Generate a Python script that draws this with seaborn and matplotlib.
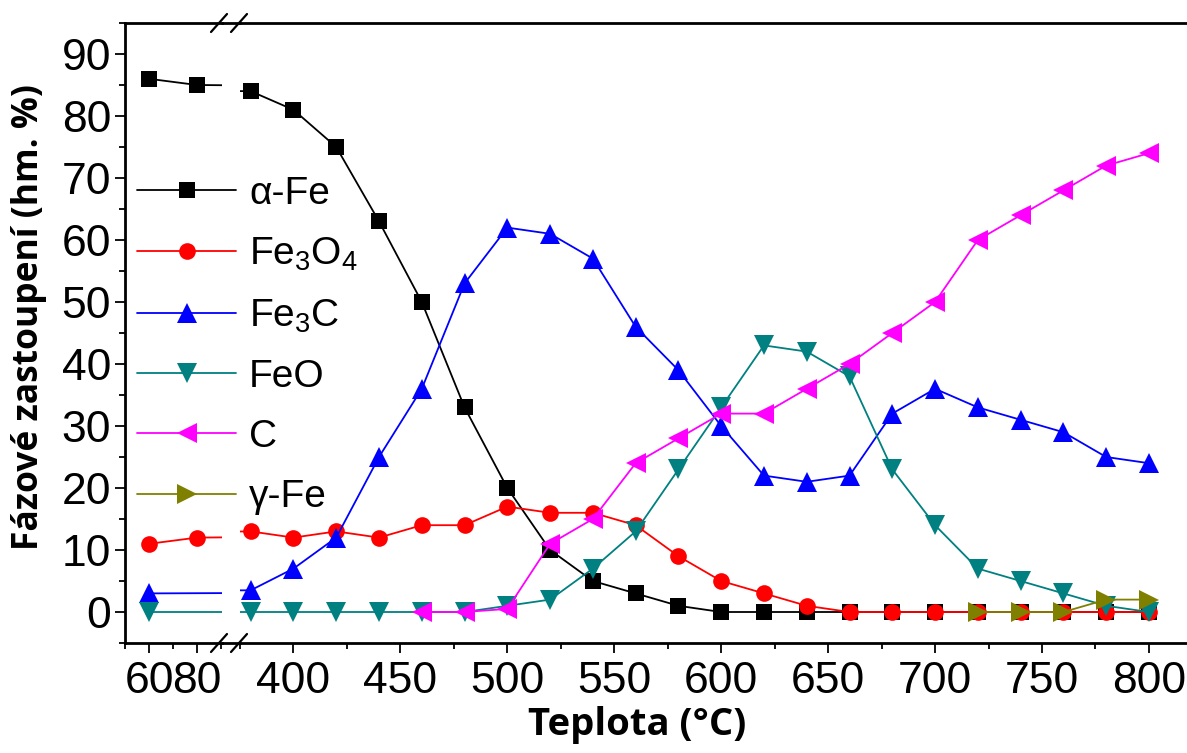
import numpy as np
import pandas as pd
import matplotlib
matplotlib.use("Agg")
import matplotlib.pyplot as plt
from matplotlib.lines import Line2D
import seaborn as sns

# ---------------- data ----------------
temps = [60, 80, 380, 400, 420, 440, 460, 480, 500, 520, 540, 560, 580, 600,
         620, 640, 660, 680, 700, 720, 740, 760, 780, 800]
nan = np.nan
alpha_fe = [86, 85, 84, 81, 75, 63, 50, 33, 20, 10, 5, 3, 1, 0,
            0, 0, 0, 0, 0, 0, 0, 0, 0, 0]
fe3o4 = [11, 12, 13, 12, 13, 12, 14, 14, 17, 16, 16, 14, 9, 5,
         3, 1, 0, 0, 0, 0, 0, 0, 0, 0]
fe3c = [3, nan, 3.5, 7, 12, 25, 36, 53, 62, 61, 57, 46, 39, 30,
        22, 21, 22, 32, 36, 33, 31, 29, 25, 24]
feo = [0, nan, 0, 0, 0, 0, 0, 0, 1, 2, 7, 13, 23, 33,
       43, 42, 38, 23, 14, 7, 5, 3, 1, 0]
c_phase = [nan, nan, nan, nan, nan, nan, 0, 0, 0.5, 11, 15, 24, 28, 32,
           32, 36, 40, 45, 50, 60, 64, 68, 72, 74]
gamma_fe = [nan, nan, nan, nan, nan, nan, nan, nan, nan, nan, nan, nan, nan, nan,
            nan, nan, nan, nan, nan, 0, 0, 0, 2, 2]

series_names = ["α-Fe", "Fe$_3$O$_4$", "Fe$_3$C", "FeO", "C", "γ-Fe"]
series_values = [alpha_fe, fe3o4, fe3c, feo, c_phase, gamma_fe]
series_colors = ["#000000", "#FF0000", "#0000FF", "#008080", "#FF00FF", "#808000"]
series_markers = ["s", "o", "^", "v", "<", ">"]
series_msize = [11, 12, 15, 15, 15, 15]

y_ticks = [0, 10, 20, 30, 40, 50, 60, 70, 80, 90]
x_ticks_left = [60, 80]
x_ticks_right = [400, 450, 500, 550, 600, 650, 700, 750, 800]
x_label = "Teplota (°C)"
y_label = "Fázové zastoupení (hm. %)"

# ---------------- figure ----------------
sns.set_theme(style="ticks")
plt.rcParams["font.family"] = ["Liberation Sans", "DejaVu Sans"]
plt.rcParams["mathtext.fontset"] = "custom"
plt.rcParams["mathtext.rm"] = "Liberation Sans"
plt.rcParams["mathtext.it"] = "Liberation Sans:italic"
plt.rcParams["mathtext.default"] = "regular"
for k in ["text.color", "axes.labelcolor", "xtick.color", "ytick.color",
          "axes.edgecolor"]:
    plt.rcParams[k] = "black"

W, H = 1187, 753
fig = plt.figure(figsize=(W / 100, H / 100), dpi=100)

def fx(px):
    return px / W

def fy(py):
    return 1 - py / H

ax_top_px, ax_bot_px = 23, 643
l1, r1 = 125, 222
l2, r2 = 240, 1187
ax1 = fig.add_axes([fx(l1), fy(ax_bot_px), fx(r1 - l1), (ax_bot_px - ax_top_px) / H])
ax2 = fig.add_axes([fx(l2), fy(ax_bot_px), fx(r2 - l2), (ax_bot_px - ax_top_px) / H])

handles = []
for name, vals, col, mk, ms in zip(series_names, series_values, series_colors,
                                   series_markers, series_msize):
    df = pd.DataFrame({"T": temps, "v": vals}).dropna()
    for ax in (ax1, ax2):
        sns.lineplot(data=df, x="T", y="v", ax=ax, color=col, marker=mk,
                     markersize=ms, markeredgewidth=0, linewidth=1.3,
                     legend=False, sort=False)
    handles.append(Line2D([0], [0], color=col, marker=mk, markersize=ms,
                          markeredgewidth=0, linewidth=1.3))

ax1.set_xlim(50, 90.4)
ax2.set_xlim(375.2, 817.8)
for ax in (ax1, ax2):
    ax.set_ylim(-5, 95)
    ax.set_xlabel("")
    ax.set_ylabel("")
    for s in ax.spines.values():
        s.set_linewidth(2)
        s.set_color("black")
    ax.spines["right"].set_visible(False)
    ax.tick_params(axis="both", which="major", direction="out", length=7,
                   width=1.3, labelsize=32, pad=3, colors="black")
    ax.tick_params(axis="both", which="minor", direction="out", length=4,
                   width=1.3, colors="black")
    ax.tick_params(axis="x", which="major", pad=6)

ax2.spines["left"].set_visible(False)
ax2.tick_params(axis="y", which="both", left=False, labelleft=False)
ax1.set_yticks(y_ticks)
ax1.set_yticks(np.arange(-5, 96, 5), minor=True)
ax1.set_xticks(x_ticks_left)
ax1.set_xticks([50, 70, 90], minor=True)
ax2.set_xticks(x_ticks_right)
ax2.set_xticks(np.arange(375, 801, 25), minor=True)

# bridge spines across the break and draw break marks
for py in (ax_top_px, ax_bot_px):
    fig.add_artist(Line2D([fx(r1), fx(l2)], [fy(py), fy(py)], color="black",
                          linewidth=2, transform=fig.transFigure))
    for cx in (219, 239):
        fig.add_artist(Line2D([fx(cx - 8), fx(cx + 8)], [fy(py + 9), fy(py - 9)],
                              color="black", linewidth=1.6,
                              transform=fig.transFigure))

leg = ax2.legend(handles, series_names, loc="upper left",
                 bbox_to_anchor=(fx(137), fy(176)), bbox_transform=fig.transFigure,
                 frameon=False, fontsize=28, handlelength=2.55, handletextpad=0.33,
                 labelspacing=0.62, numpoints=1, borderpad=0, borderaxespad=0)

fig.text(fx(637), fy(725), x_label, ha="center", va="center",
         fontsize=27.5, fontweight="bold", family=["Open Sans", "DejaVu Sans"])
fig.text(fx(29), fy(317), y_label, ha="center", va="center", rotation=90,
         fontsize=25.5, fontweight="bold", family=["Open Sans", "DejaVu Sans"])

fig.savefig("out.png", dpi=100)
